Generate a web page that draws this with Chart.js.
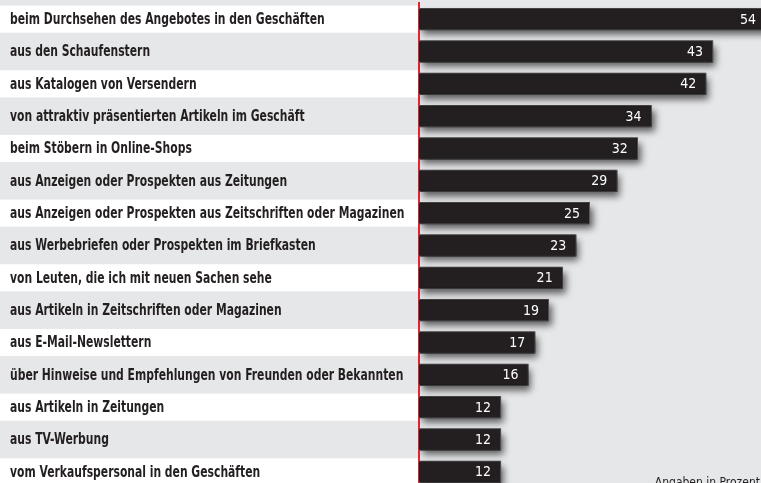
<!DOCTYPE html>
<html>
<head>
<meta charset="utf-8">
<script src="https://cdn.jsdelivr.net/npm/chart.js@4/dist/chart.umd.min.js"></script>
<style>
  html, body { margin: 0; padding: 0; background: #e6e7e9; overflow: hidden; }
  #wrap { width: 761px; height: 488px; }
</style>
</head>
<body>
<div id="wrap"><canvas id="barQuellen"></canvas></div>
<script>
var kategorien = [
  'beim Durchsehen des Angebotes in den Geschäften',
  'aus den Schaufenstern',
  'aus Katalogen von Versendern',
  'von attraktiv präsentierten Artikeln im Geschäft',
  'beim Stöbern in Online-Shops',
  'aus Anzeigen oder Prospekten aus Zeitungen',
  'aus Anzeigen oder Prospekten aus Zeitschriften oder Magazinen',
  'aus Werbebriefen oder Prospekten im Briefkasten',
  'von Leuten, die ich mit neuen Sachen sehe',
  'aus Artikeln in Zeitschriften oder Magazinen',
  'aus E-Mail-Newslettern',
  'über Hinweise und Empfehlungen von Freunden oder Bekannten',
  'aus Artikeln in Zeitungen',
  'aus TV-Werbung',
  'vom Verkaufspersonal in den Geschäften'
];
var prozent = [54, 43, 42, 34, 32, 29, 25, 23, 21, 19, 17, 16, 12, 12, 12];
var fussnote = 'Angaben in Prozent';

var grau = '#e6e7e9';
var dunkel = '#231f20';
var labelFont = "'DejaVu Sans Condensed', 'Liberation Sans', sans-serif";

// hintergrund grau, links weisse streifen fuer jede zweite zeile
var streifen = {
  id: 'streifen',
  beforeDraw: function(chart) {
    var ctx = chart.ctx;
    var y = chart.scales.y;
    var area = chart.chartArea;
    var pitch = (area.bottom - area.top) / kategorien.length;
    var h = pitch * 0.84;
    ctx.save();
    ctx.fillStyle = grau;
    ctx.fillRect(0, 0, chart.width, chart.height);
    ctx.fillStyle = '#ffffff';
    for (var i = 0; i < kategorien.length; i += 2) {
      var c = y.getPixelForValue(i);
      ctx.fillRect(0, c - h / 2, area.left, h);
    }
    ctx.restore();
  }
};

// kategorien links, schmal gesetzt
var beschriftung = {
  id: 'beschriftung',
  afterDraw: function(chart) {
    var ctx = chart.ctx;
    var y = chart.scales.y;
    ctx.save();
    ctx.fillStyle = dunkel;
    ctx.font = 'bold 15px ' + labelFont;
    ctx.textAlign = 'left';
    ctx.textBaseline = 'middle';
    kategorien.forEach(function(txt, i) {
      ctx.save();
      ctx.translate(10, y.getPixelForValue(i) + 1);
      ctx.scale(0.8, 1);
      ctx.fillText(txt, 0, 0);
      ctx.restore();
    });
    ctx.restore();
  }
};

// weicher schatten rechts unter jedem balken
var schatten = {
  id: 'schatten',
  beforeDatasetsDraw: function(chart) {
    var ctx = chart.ctx;
    var area = chart.chartArea;
    var meta = chart.getDatasetMeta(0);
    ctx.save();
    ctx.beginPath();
    ctx.rect(area.left + 1, area.top, area.right - area.left, area.bottom - area.top);
    ctx.clip();
    ctx.shadowColor = 'rgba(0,0,0,0.6)';
    ctx.shadowBlur = 7;
    ctx.shadowOffsetX = 3;
    ctx.shadowOffsetY = 5;
    ctx.fillStyle = 'rgba(0,0,0,1)';
    meta.data.forEach(function(bar) {
      var p = bar.getProps(['x', 'y', 'base', 'height']);
      ctx.fillRect(p.base, p.y - p.height / 2, p.x - p.base, p.height);
    });
    ctx.restore();
  }
};

// werte in den balken + fussnote
var werte = {
  id: 'werte',
  afterDatasetsDraw: function(chart) {
    var ctx = chart.ctx;
    var area = chart.chartArea;
    var meta = chart.getDatasetMeta(0);
    ctx.save();
    ctx.fillStyle = '#ffffff';
    ctx.font = '14px ' + labelFont;
    ctx.textAlign = 'right';
    ctx.textBaseline = 'middle';
    meta.data.forEach(function(bar, i) {
      var x = Math.min(bar.x, area.right + 5) - 10;
      ctx.fillText(String(prozent[i]), x, bar.y + 1);
    });
    ctx.fillStyle = dunkel;
    ctx.font = '12px ' + labelFont;
    ctx.textBaseline = 'alphabetic';
    ctx.fillText(fussnote, chart.width - 1, 486);
    ctx.restore();
  }
};

var barChart = new Chart(document.getElementById('barQuellen'), {
  type: 'bar',
  data: {
    labels: kategorien,
    datasets: [{
      data: prozent,
      backgroundColor: dunkel,
      borderColor: '#5c5a5b',
      borderWidth: 1,
      borderSkipped: 'left',
      barPercentage: 0.68,
      categoryPercentage: 1
    }]
  },
  options: {
    indexAxis: 'y',
    responsive: true,
    maintainAspectRatio: false,
    animation: false,
    layout: { padding: { left: 0, top: 3, right: 0, bottom: 0 } },
    plugins: {
      legend: { display: false },
      tooltip: { enabled: false }
    },
    scales: {
      x: { display: false, min: 0, max: 50 },
      y: {
        grid: { display: false },
        border: { display: true, color: '#e2222e', width: 2 },
        ticks: { display: false },
        afterFit: function(scale) { scale.width = 419; }
      }
    }
  },
  plugins: [streifen, schatten, werte, beschriftung]
});
</script>
</body>
</html>
